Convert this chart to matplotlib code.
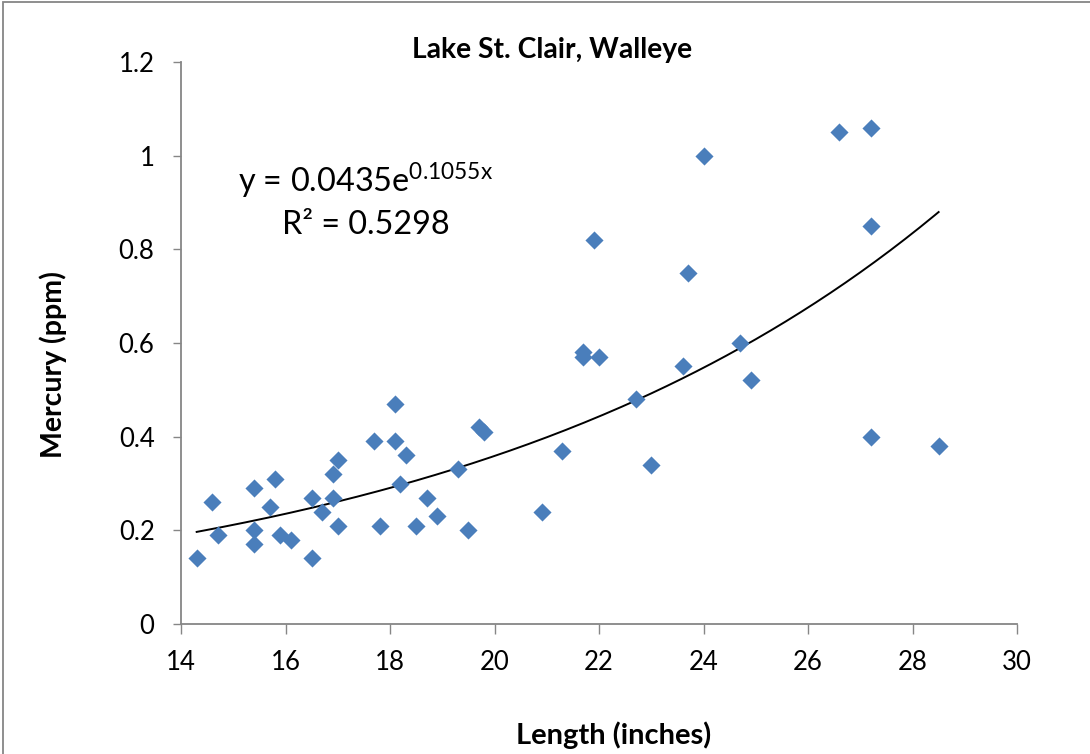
import numpy as np
import matplotlib
matplotlib.use("Agg")
import matplotlib.pyplot as plt
from matplotlib.patches import Rectangle

plt.rcParams['font.family'] = ['Lato', 'DejaVu Sans']

length_in = [14.3, 14.6, 14.7, 15.4, 15.4, 15.4, 15.7, 15.8, 15.9, 16.1,
             16.5, 16.5, 16.7, 16.9, 16.9, 17.0, 17.0, 17.7, 17.8, 18.1,
             18.1, 18.2, 18.3, 18.5, 18.7, 18.9, 19.3, 19.5, 19.7, 19.8,
             20.9, 21.3, 21.7, 21.7, 21.9, 22.0, 22.7, 23.0, 23.6, 23.7,
             24.0, 24.7, 24.9, 26.6, 27.2, 27.2, 27.2, 28.5]
mercury_ppm = [0.14, 0.26, 0.19, 0.29, 0.20, 0.17, 0.25, 0.31, 0.19, 0.18,
               0.27, 0.14, 0.24, 0.32, 0.27, 0.35, 0.21, 0.39, 0.21, 0.47,
               0.39, 0.30, 0.36, 0.21, 0.27, 0.23, 0.33, 0.20, 0.42, 0.41,
               0.24, 0.37, 0.58, 0.57, 0.82, 0.57, 0.48, 0.34, 0.55, 0.75,
               1.00, 0.60, 0.52, 1.05, 1.06, 0.85, 0.40, 0.38]

trend_a = 0.0435
trend_b = 0.1055
r_squared = 0.5298

x_ticks = [14, 16, 18, 20, 22, 24, 26, 28, 30]
y_ticks = [0, 0.2, 0.4, 0.6, 0.8, 1.0, 1.2]
y_tick_labels = ['0', '0.2', '0.4', '0.6', '0.8', '1', '1.2']

fig = plt.figure(figsize=(10.9, 7.54), dpi=100)
ax = fig.add_axes([181/1090, 1-624/754, (1017-181)/1090, (624-62)/754])

ax.scatter(length_in, mercury_ppm, marker='D', s=85, color='#4A7EBB',
           linewidths=0, zorder=3)

xs = np.linspace(min(length_in), max(length_in), 200)
ax.plot(xs, trend_a*np.exp(trend_b*xs), color='black', lw=1.4, zorder=2)

ax.set_xlim(14, 30)
ax.set_ylim(0, 1.2)
ax.set_xticks(x_ticks)
ax.set_yticks(y_ticks)
ax.set_yticklabels(y_tick_labels)
ax.set_xticklabels([str(t) for t in x_ticks])
for s in ['top', 'right']:
    ax.spines[s].set_visible(False)
for s in ['left', 'bottom']:
    ax.spines[s].set_color('#868686')
    ax.spines[s].set_linewidth(1.3)
ax.tick_params(axis='both', colors='#868686', labelcolor='black', labelsize=18.5,
               width=1.0)
ax.tick_params(axis='y', length=6, pad=13)
ax.tick_params(axis='x', length=7, pad=12)

fig.text(552/1090, 1-58/754, 'Lake St. Clair, Walleye', ha='center', va='baseline',
         fontsize=20.3, fontweight='bold')
fig.text(53/1090, 1-365/754, 'Mercury (ppm)', ha='center', va='center',
         rotation=90, fontsize=20.5, fontweight='bold')
fig.text(614/1090, 1-735/754, 'Length (inches)', ha='center', va='center',
         fontsize=21, fontweight='bold')

fig.text(238/1090, 1-192/754, r'y = %.4fe$^{\mathregular{%.4fx}}$' % (trend_a, trend_b),
         ha='left', va='baseline', fontsize=23.3)
fig.text(282/1090, 1-234/754, 'R² = %.4f' % r_squared,
         ha='left', va='baseline', fontsize=23.3)

fig.patches.append(Rectangle((3/1090, -0.01), 1.01, 1-2/754+0.01,
                             transform=fig.transFigure, fill=False,
                             edgecolor='#868686', lw=1.3))

fig.savefig('out.png', dpi=100)
